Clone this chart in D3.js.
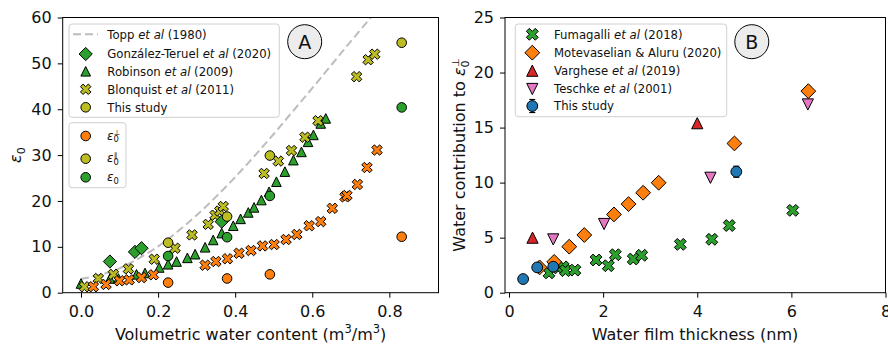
<!DOCTYPE html>
<html>
<head>
<meta charset="utf-8">
<script src="https://cdn.jsdelivr.net/npm/d3@7"></script>
<style>
  body { margin: 0; background: #fff; }
  svg { display: block; font-family: "DejaVu Sans", sans-serif; }
</style>
</head>
<body>
<svg id="chart" width="888" height="345"></svg>
<script>
// ---------- panel A : permittivity vs volumetric water content ----------
const toppTheta = [0, 0.05, 0.1, 0.15, 0.2, 0.25, 0.3, 0.35, 0.4, 0.45, 0.5, 0.55, 0.6, 0.65, 0.7, 0.75, 0.77];
const toppEps = [3.0, 3.9, 5.3, 7.5, 10.1, 13.3, 16.9, 20.9, 25.2, 29.8, 34.6, 39.6, 44.6, 49.7, 54.8, 59.8, 61.7];

const gonzalezTheta = [0.075, 0.14, 0.157, 0.365];
const gonzalezEps = [6.8, 8.9, 9.7, 15.5];

const robinsonTheta = [0, 0.075, 0.097, 0.144, 0.166, 0.203, 0.226, 0.248, 0.276, 0.296, 0.322, 0.343, 0.365,
  0.395, 0.414, 0.434, 0.449, 0.468, 0.488, 0.507, 0.529, 0.551, 0.572, 0.589, 0.603, 0.622, 0.635];
const robinsonEps = [2.0, 3.1, 3.1, 4.0, 4.3, 5.5, 6.2, 6.8, 7.6, 8.4, 9.9, 11.5, 13.0,
  14.6, 16.1, 17.5, 18.6, 20.2, 22.0, 24.2, 26.4, 28.9, 30.7, 32.9, 34.4, 36.9, 38.0];

const blonquistTheta = [0.009, 0.045, 0.084, 0.123, 0.19, 0.244, 0.288, 0.33, 0.348, 0.36, 0.369,
  0.475, 0.512, 0.546, 0.581, 0.615, 0.715, 0.745, 0.762];
const blonquistEpsPar = [1.3, 3.1, 4.0, 5.2, 7.3, 9.7, 12.6, 14.9, 16.9, 17.8, 18.8,
  26.0, 28.7, 31.0, 33.9, 37.5, 47.1, 50.8, 52.0];

const blonquistPerpTheta = [0.032, 0.065, 0.1, 0.125, 0.157, 0.188, 0.322, 0.35, 0.38, 0.41, 0.441, 0.471,
  0.501, 0.532, 0.56, 0.592, 0.622, 0.652, 0.685, 0.69, 0.717, 0.742, 0.768];
const blonquistEpsPerp = [1.3, 1.8, 2.6, 2.8, 3.3, 3.9, 6.0, 6.8, 7.4, 8.6, 9.2, 10.2,
  10.5, 11.6, 12.7, 14.6, 15.5, 18.4, 20.9, 21.2, 23.6, 27.3, 31.1];

const studyTheta = [0.226, 0.379, 0.49, 0.832];
const studyEpsPerp = [2.2, 3.1, 4.0, 12.2];
const studyEpsPar = [10.9, 16.6, 29.9, 54.5];
const studyEps = [8.0, 12.1, 21.1, 40.4];

const xTicksA = [0, 0.2, 0.4, 0.6, 0.8];
const yTicksA = [0, 10, 20, 30, 40, 50, 60];

// ---------- panel B : water contribution vs film thickness ----------
const fumagalliH = [0.85, 1.05, 1.15, 1.2, 1.4, 1.85, 2.11, 2.26, 2.64, 2.82, 3.64, 4.31, 4.68, 6.03];
const fumagalliEps = [1.8, 2.25, 2.35, 2.0, 2.05, 2.97, 2.45, 3.45, 3.06, 3.4, 4.39, 4.85, 6.1, 7.48];

const motevaselianH = [0.65, 0.96, 1.28, 1.6, 2.23, 2.54, 2.85, 3.18, 4.79, 6.36];
const motevaselianEps = [2.3, 2.8, 4.18, 5.24, 7.11, 8.05, 9.08, 9.99, 13.56, 18.31];

const vargheseH = [0.5, 4.0];
const vargheseEps = [5.0, 15.4];

const teschkeH = [0.94, 2.02, 4.28, 6.35];
const teschkeEps = [4.84, 6.24, 10.44, 17.1];

const studyH = [0.3, 0.6, 0.94, 4.83];
const studyEpsB = [1.24, 2.3, 2.36, 10.99];
const studyErrB = [0.1, 0.1, 0.1, 0.5];

const xTicksB = [0, 2, 4, 6, 8];
const yTicksB = [0, 5, 10, 15, 20, 25];

// ---------- style ----------
const green = "#2ca02c", orange = "#ff7f0e", olive = "#bcbd22",
  red = "#d62728", pink = "#e377c2", blue = "#1f77b4";

const svg = d3.select("#chart");

// marker shapes (matplotlib-like)
const diamond = r => `M0,${-r}L${r},0L0,${r}L${-r},0Z`;
const triUp = r => `M0,${-r}L${r},${r}L${-r},${r}Z`;
const triDown = r => `M0,${r}L${r},${-r}L${-r},${-r}Z`;
const circle = r => `M${r},0A${r},${r} 0 1,1 ${-r},0A${r},${r} 0 1,1 ${r},0Z`;
function xMark(u) {
  const pts = [[-1, -3], [1, -3], [1, -1], [3, -1], [3, 1], [1, 1], [1, 3], [-1, 3], [-1, 1], [-3, 1], [-3, -1], [-1, -1]];
  const c = Math.SQRT1_2;
  return "M" + pts.map(([a, b]) => [((a - b) * c * u).toFixed(2), ((a + b) * c * u).toFixed(2)].join(",")).join("L") + "Z";
}

function scatter(g, xs, ys, x, y, shape, fill) {
  g.append("g")
    .selectAll("path")
    .data(d3.zip(xs, ys))
    .join("path")
    .attr("d", shape)
    .attr("transform", d => `translate(${x(d[0])},${y(d[1])})`)
    .attr("fill", fill)
    .attr("stroke", "#000")
    .attr("stroke-width", 1);
}

function axes(g, x, y, xTicks, yTicks, xFmt) {
  const [top, bottom] = [y.range()[1], y.range()[0]];
  const [left, right] = x.range();
  const xa = g.append("g")
    .attr("transform", `translate(0,${bottom})`)
    .call(d3.axisBottom(x).tickValues(xTicks).tickFormat(xFmt).tickSize(5));
  const ya = g.append("g")
    .attr("transform", `translate(${left},0)`)
    .call(d3.axisLeft(y).tickValues(yTicks).tickFormat(d3.format("d")).tickSize(5).tickPadding(6));
  [xa, ya].forEach(a => {
    a.select(".domain").remove();
    a.selectAll("line").attr("stroke", "#000");
    a.selectAll("text").attr("font-size", 16).attr("fill", "#111").attr("font-family", "DejaVu Sans");
  });
  xa.selectAll("text").attr("dy", null).attr("y", 24.5);
  // frame
  g.append("rect")
    .attr("x", left).attr("y", top)
    .attr("width", right - left).attr("height", bottom - top)
    .attr("fill", "none").attr("stroke", "#000").attr("stroke-width", 1);
}

// epsilon with subscript 0 and optional stacked superscript
function eps(text, size, sup) {
  text.append("tspan").attr("font-style", "italic").text("ε");
  text.append("tspan").attr("font-size", size * 0.7).attr("dy", size * 0.22).text("0");
  if (sup) {
    text.append("tspan")
      .attr("font-size", size * 0.62)
      .attr("dx", -size * 0.7 * 0.6)
      .attr("dy", -size * 0.62)
      .text(sup);
  }
}

function legendText(g, x, y, parts, size) {
  const t = g.append("text").attr("x", x).attr("y", y).attr("dy", "0.36em")
    .attr("font-size", size).attr("fill", "#111");
  parts.forEach(p => {
    t.append("tspan").attr("font-style", p[1] ? "italic" : null).text(p[0]);
  });
  return t;
}

function badge(g, cx, cy, label) {
  g.append("circle").attr("cx", cx).attr("cy", cy).attr("r", 17)
    .attr("fill", "#ececec").attr("stroke", "#000").attr("stroke-width", 1);
  g.append("text").attr("x", cx).attr("y", cy).attr("dy", "0.36em")
    .attr("text-anchor", "middle").attr("font-size", 19).attr("fill", "#111").text(label);
}

// ======================= Panel A =======================
const xA = d3.scaleLinear().domain([-0.0475, 0.9275]).range([62.7, 438.5]);
const yA = d3.scaleLinear().domain([0, 60]).range([292.7, 17.5]);
const gA = svg.append("g");

gA.append("clipPath").attr("id", "clipA")
  .append("rect").attr("x", 62.7).attr("y", 17.5).attr("width", 375.8).attr("height", 275.2);

// Topp curve
gA.append("path")
  .datum(d3.zip(toppTheta, toppEps))
  .attr("clip-path", "url(#clipA)")
  .attr("fill", "none")
  .attr("stroke", "#bdbdbd")
  .attr("stroke-width", 2)
  .attr("stroke-dasharray", "8,4")
  .attr("d", d3.line().x(d => xA(d[0])).y(d => yA(d[1])).curve(d3.curveCatmullRom));

const sA = { dia: diamond(6.6), tri: triUp(4.8), x: xMark(1.85), c: circle(4.8) };
scatter(gA, robinsonTheta, robinsonEps, xA, yA, sA.tri, green);
scatter(gA, blonquistTheta, blonquistEpsPar, xA, yA, sA.x, olive);
scatter(gA, gonzalezTheta, gonzalezEps, xA, yA, sA.dia, green);
scatter(gA, blonquistPerpTheta, blonquistEpsPerp, xA, yA, sA.x, orange);
scatter(gA, studyTheta, studyEpsPerp, xA, yA, sA.c, orange);
scatter(gA, studyTheta, studyEpsPar, xA, yA, sA.c, olive);
scatter(gA, studyTheta, studyEps, xA, yA, sA.c, green);

axes(gA, xA, yA, xTicksA, yTicksA, d3.format(".1f"));

// axis labels
const xlA = gA.append("text").attr("x", 250.6).attr("y", 340).attr("text-anchor", "middle")
  .attr("font-size", 16).attr("fill", "#111");
xlA.append("tspan").text("Volumetric water content (m");
xlA.append("tspan").attr("font-size", 11.5).attr("dy", -7).text("3");
xlA.append("tspan").attr("dy", 7).text("/m");
xlA.append("tspan").attr("font-size", 11.5).attr("dy", -7).text("3");
xlA.append("tspan").attr("dy", 7).text(")");
const ylA = gA.append("text").attr("transform", "translate(21,155) rotate(-90)")
  .attr("text-anchor", "middle").attr("font-size", 16).attr("fill", "#111");
eps(ylA, 16);

// legend 1
const lg1 = gA.append("g");
lg1.append("rect").attr("x", 69).attr("y", 24).attr("width", 210.3).attr("height", 93.3).attr("rx", 3)
  .attr("fill", "#fff").attr("fill-opacity", 0.85).attr("stroke", "#d0d0d0");
lg1.append("line").attr("x1", 73).attr("x2", 98).attr("y1", 34.3).attr("y2", 34.3)
  .attr("stroke", "#bdbdbd").attr("stroke-width", 2).attr("stroke-dasharray", "8,4");
legendText(lg1, 107.3, 34.3, [["Topp "], ["et al", 1], [" (1980)"]], 11.7);
[[54, sA.dia, green, [["González-Teruel "], ["et al", 1], [" (2020)"]]],
 [71.3, sA.tri, green, [["Robinson "], ["et al", 1], [" (2009)"]]],
 [89.3, sA.x, olive, [["Blonquist "], ["et al", 1], [" (2011)"]]],
 [107.3, sA.c, olive, [["This study"]]]].forEach(([yy, shape, fill, parts]) => {
  lg1.append("path").attr("d", shape).attr("transform", `translate(85.7,${yy})`)
    .attr("fill", fill).attr("stroke", "#000");
  legendText(lg1, 107.3, yy, parts, 11.7);
});

// legend 2
const lg2 = gA.append("g");
lg2.append("rect").attr("x", 69).attr("y", 122.7).attr("width", 57).attr("height", 65).attr("rx", 3)
  .attr("fill", "#fff").attr("fill-opacity", 0.85).attr("stroke", "#d0d0d0");
[[136, orange, "⊥"], [158.7, olive, "∥"], [177.3, green, null]].forEach(([yy, fill, sup]) => {
  lg2.append("path").attr("d", sA.c).attr("transform", `translate(85.7,${yy})`)
    .attr("fill", fill).attr("stroke", "#000");
  const t = lg2.append("text").attr("x", 107).attr("y", yy).attr("dy", "0.3em")
    .attr("font-size", 12).attr("fill", "#111");
  eps(t, 12, sup);
});

badge(gA, 304.7, 41.7, "A");

// ======================= Panel B =======================
const xB = d3.scaleLinear().domain([-0.085, 8]).range([505, 885.5]);
const yB = d3.scaleLinear().domain([0, 25]).range([292.7, 17.5]);
const gB = svg.append("g");

const sB = { dia: diamond(7.4), tri: triUp(5.6), triD: triDown(5.6), x: xMark(2.1), c: circle(5.4) };
scatter(gB, fumagalliH, fumagalliEps, xB, yB, sB.x, green);
scatter(gB, motevaselianH, motevaselianEps, xB, yB, sB.dia, orange);
scatter(gB, vargheseH, vargheseEps, xB, yB, sB.tri, red);
scatter(gB, teschkeH, teschkeEps, xB, yB, sB.triD, pink);

// error bars for this study
const eb = gB.append("g").attr("stroke", "#000").attr("stroke-width", 1.2);
const ebData = d3.zip(studyH, studyEpsB, studyErrB);
eb.selectAll("line.v").data(ebData).join("line").attr("class", "v")
  .attr("x1", d => xB(d[0])).attr("x2", d => xB(d[0]))
  .attr("y1", d => yB(d[1] - d[2])).attr("y2", d => yB(d[1] + d[2]));
eb.selectAll("line.cap").data(ebData.flatMap(d => [[d[0], d[1] - d[2]], [d[0], d[1] + d[2]]])).join("line")
  .attr("class", "cap")
  .attr("x1", d => xB(d[0]) - 3).attr("x2", d => xB(d[0]) + 3)
  .attr("y1", d => yB(d[1])).attr("y2", d => yB(d[1]));
scatter(gB, studyH, studyEpsB, xB, yB, sB.c, blue);

axes(gB, xB, yB, xTicksB, yTicksB, d3.format("d"));

gB.append("text").attr("x", 695).attr("y", 340).attr("text-anchor", "middle")
  .attr("font-size", 16).attr("fill", "#111").text("Water film thickness (nm)");
const ylB = gB.append("text").attr("transform", "translate(465,155) rotate(-90)")
  .attr("text-anchor", "middle").attr("font-size", 16).attr("fill", "#111");
ylB.append("tspan").text("Water contribution to ");
eps(ylB, 16, "⊥");

// legend
const lgB = gB.append("g");
lgB.append("rect").attr("x", 515.3).attr("y", 24).attr("width", 211.4).attr("height", 92.7).attr("rx", 3)
  .attr("fill", "#fff").attr("fill-opacity", 0.85).attr("stroke", "#d0d0d0");
[[34.3, sB.x, green, [["Fumagalli "], ["et al", 1], [" (2018)"]]],
 [52.7, sB.dia, orange, [["Motevaselian & Aluru (2020)"]]],
 [70.7, sB.tri, red, [["Varghese "], ["et al", 1], [" (2019)"]]],
 [89, sB.triD, pink, [["Teschke "], ["et al", 1], [" (2001)"]]],
 [106, sB.c, blue, [["This study"]]]].forEach(([yy, shape, fill, parts], i) => {
  if (i === 4) {
    lgB.append("line").attr("x1", 532.3).attr("x2", 532.3).attr("y1", yy - 6.5).attr("y2", yy + 6.5)
      .attr("stroke", "#000").attr("stroke-width", 1.2);
    [yy - 6.5, yy + 6.5].forEach(cy => lgB.append("line").attr("x1", 529.3).attr("x2", 535.3)
      .attr("y1", cy).attr("y2", cy).attr("stroke", "#000").attr("stroke-width", 1.2));
  }
  lgB.append("path").attr("d", shape).attr("transform", `translate(532.3,${yy})`)
    .attr("fill", fill).attr("stroke", "#000");
  legendText(lgB, 554, yy, parts, 11.7);
});

badge(gB, 751.8, 41.7, "B");
</script>
</body>
</html>
